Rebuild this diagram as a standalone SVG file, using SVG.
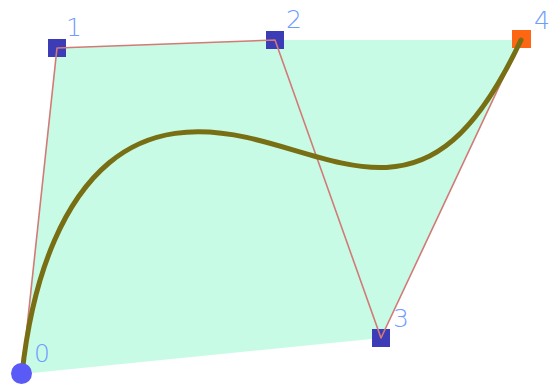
<svg xmlns="http://www.w3.org/2000/svg" width="550" height="386" viewBox="0 0 550 386">
<style>
.hull{fill:#c8fbe6;stroke:none}
.poly{fill:none;stroke:#d27a76;stroke-width:1.6;stroke-linejoin:round}
.curve{fill:none;stroke:#786e14;stroke-width:5;stroke-linecap:round;stroke-linejoin:round}
.pt{fill:#3c3cb6}
.end{fill:#fd6612}
.start{fill:#5a5af6}
.lbl{font-family:"DejaVu Sans","Liberation Sans",sans-serif;font-size:25px;font-weight:200;fill:#6e9cff}
</style>
<rect width="550" height="386" fill="#ffffff"/>
<polygon class="hull" points="22,374 57,48 275,40 521,40 381,338"/>
<g id="node-1"><rect class="pt" x="48" y="39" width="18" height="18"/><text class="lbl" x="66" y="36">1</text></g>
<g id="node-2"><rect class="pt" x="266" y="31" width="18" height="18"/><text class="lbl" x="286" y="28">2</text></g>
<g id="node-3"><rect class="pt" x="372" y="329" width="18" height="18"/><text class="lbl" x="393" y="327">3</text></g>
<g id="node-4"><rect class="end" x="512" y="30" width="19" height="18"/><text class="lbl" x="534" y="29">4</text></g>
<g id="connectors">
<polyline class="poly" points="22,374 57,48 275,40 381,338 521,40"/>
<path class="curve" d="M22,374 C33.67,265.33 67.63,197.57 108.91,163.02 C150.19,128.47 198.77,127.13 246.56,137.38 C294.35,147.63 341.35,169.47 386.35,167.4 C431.35,165.33 474.33,139.33 521,40"/>
</g>
<g id="node-0"><circle class="start" cx="21.5" cy="373.5" r="10.5"/><text class="lbl" x="34" y="362">0</text></g>
</svg>
